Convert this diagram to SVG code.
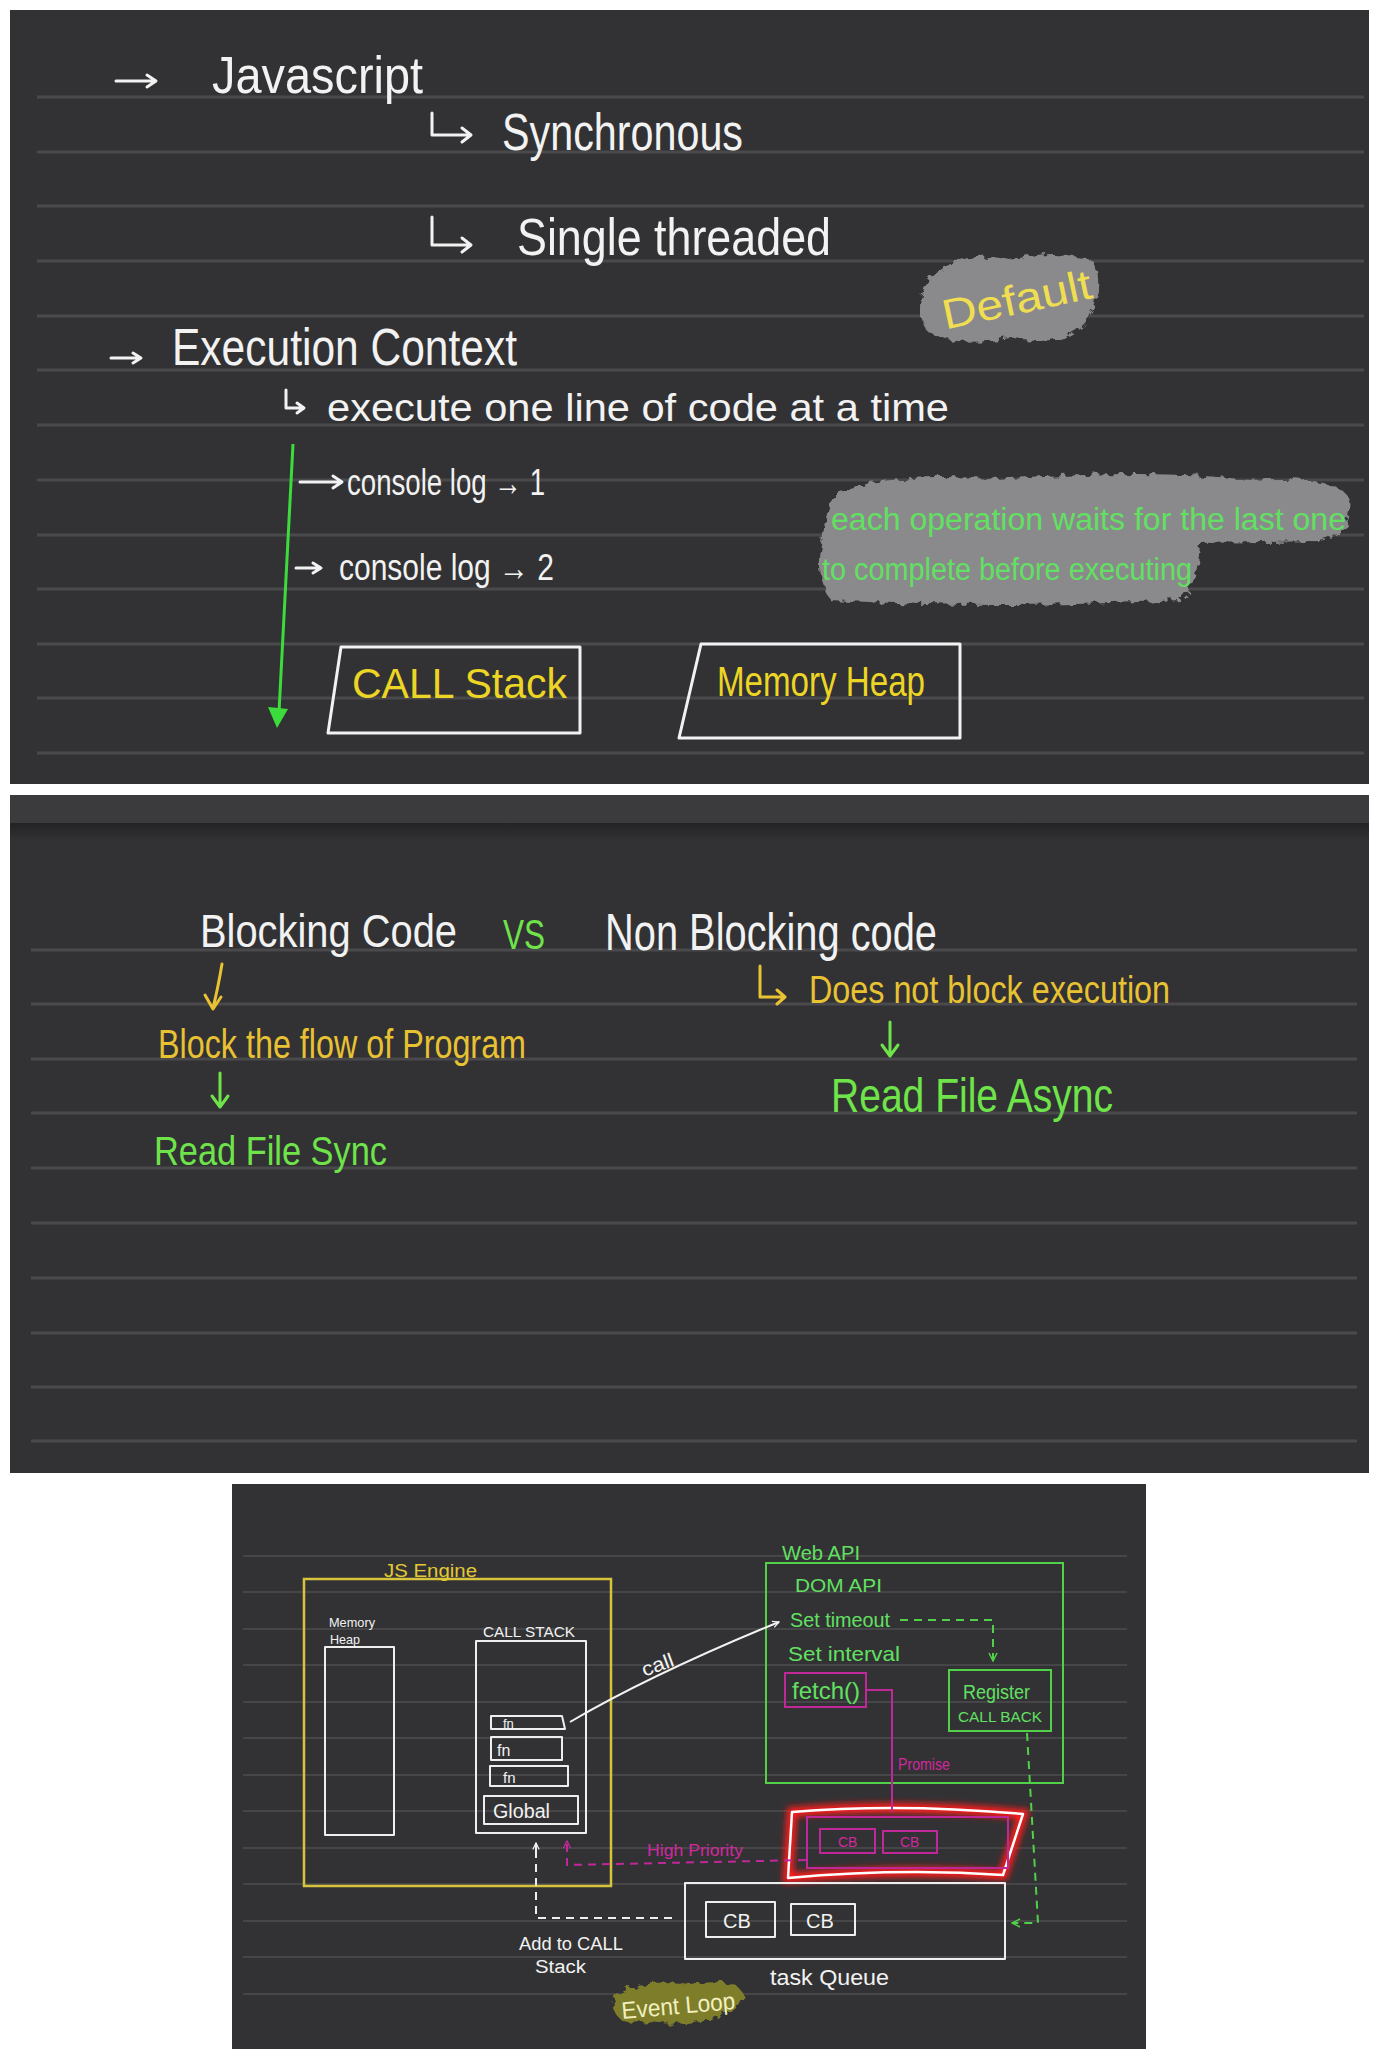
<svg xmlns="http://www.w3.org/2000/svg" width="1379" height="2060" viewBox="0 0 1379 2060">
<style>
.panel{fill:#323234}
.rule{stroke:#4a4a4c;stroke-width:3}
.rule3{stroke:#464648;stroke-width:2}
.t{font-family:"Liberation Sans",Arial,sans-serif}
.w{fill:#f2f2f2}
.y1{fill:#ecd524}
.y2{fill:#e8c232}
.g1{fill:#62e04c}
.g2{fill:#6fe34a}
.gt{fill:#62e062}
.mg{fill:#d0289e}
.sw{fill:none;stroke:#f2f2f2;stroke-width:3;stroke-linecap:round;stroke-linejoin:round}
.sw2{fill:none;stroke:#eeeeee;stroke-width:2;stroke-linecap:round;stroke-linejoin:round}
.sy{fill:none;stroke:#d8c43a;stroke-width:2.5}
.sg{fill:none;stroke:#52d04a;stroke-width:2}
.sm{fill:none;stroke:#c0289a;stroke-width:2}
.dash{stroke-dasharray:8 6}
</style>
<defs>
<filter id="rough" x="-10%" y="-20%" width="120%" height="140%">
<feTurbulence type="fractalNoise" baseFrequency="0.12" numOctaves="2" seed="3"/>
<feDisplacementMap in="SourceGraphic" scale="10"/>
</filter>
<filter id="glow" x="-10%" y="-30%" width="120%" height="160%">
<feGaussianBlur stdDeviation="3"/>
</filter>
<linearGradient id="shade" x1="0" y1="0" x2="0" y2="1">
<stop offset="0" stop-color="#232325"/>
<stop offset="1" stop-color="#323234"/>
</linearGradient>
<marker id="chev" viewBox="0 0 10 10" refX="9" refY="5" markerWidth="8" markerHeight="8" orient="auto" markerUnits="userSpaceOnUse">
<path d="M1 1 L9 5 L1 9" fill="none" stroke="#f2f2f2" stroke-width="1.5"/>
</marker>
<marker id="chevg" viewBox="0 0 10 10" refX="9" refY="5" markerWidth="10" markerHeight="10" orient="auto" markerUnits="userSpaceOnUse">
<path d="M1 1 L9 5 L1 9" fill="none" stroke="#52d04a" stroke-width="1.5"/>
</marker>
<marker id="chevm" viewBox="0 0 10 10" refX="9" refY="5" markerWidth="9" markerHeight="9" orient="auto" markerUnits="userSpaceOnUse">
<path d="M1 1 L9 5 L1 9" fill="none" stroke="#c0289a" stroke-width="1.5"/>
</marker>
</defs>

<rect width="1379" height="2060" fill="#ffffff"/>

<!-- Panel 1 -->
<g id="panel1">
<rect class="panel" x="10" y="10" width="1359" height="774"/>
<g class="rule">
<line x1="37" y1="97" x2="1364" y2="97"/>
<line x1="37" y1="152" x2="1364" y2="152"/>
<line x1="37" y1="206" x2="1364" y2="206"/>
<line x1="37" y1="261" x2="1364" y2="261"/>
<line x1="37" y1="316" x2="1364" y2="316"/>
<line x1="37" y1="370" x2="1364" y2="370"/>
<line x1="37" y1="425" x2="1364" y2="425"/>
<line x1="37" y1="480" x2="1364" y2="480"/>
<line x1="37" y1="535" x2="1364" y2="535"/>
<line x1="37" y1="589" x2="1364" y2="589"/>
<line x1="37" y1="644" x2="1364" y2="644"/>
<line x1="37" y1="698" x2="1364" y2="698"/>
<line x1="37" y1="753" x2="1364" y2="753"/>
</g>
</g>

<g id="javascript"><text class="t w" x="212" y="93" font-size="52" textLength="211" lengthAdjust="spacingAndGlyphs">Javascript</text></g>
<g id="synchronous"><text class="t w" x="502" y="150" font-size="52" textLength="241" lengthAdjust="spacingAndGlyphs">Synchronous</text></g>
<g id="single-threaded"><text class="t w" x="517" y="255" font-size="52" textLength="314" lengthAdjust="spacingAndGlyphs">Single threaded</text></g>
<g id="default">
<path d="M928 282 Q 956 248 1010 260 Q 1064 246 1096 264 Q 1104 300 1084 324 Q 1058 348 1010 338 Q 956 348 928 332 Q 912 306 928 282 Z" fill="#8a8a8c" filter="url(#rough)"/>
<text class="t" fill="#f0de52" x="940" y="314" font-size="42" textLength="152" lengthAdjust="spacingAndGlyphs" transform="rotate(-12 1016 296)">Default</text>
</g>
<g id="execution-context"><text class="t w" x="172" y="365" font-size="52" textLength="345" lengthAdjust="spacingAndGlyphs">Execution Context</text></g>
<g id="one-line"><text class="t w" x="327" y="421" font-size="38" textLength="622" lengthAdjust="spacingAndGlyphs">execute one line of code at a time</text></g>
<g id="console1"><text class="t w" x="347" y="495" font-size="36" textLength="198" lengthAdjust="spacingAndGlyphs">console log → 1</text></g>
<g id="console2"><text class="t w" x="339" y="580" font-size="36" textLength="215" lengthAdjust="spacingAndGlyphs">console log → 2</text></g>
<g id="waits-note">
<path d="M836 492 Q 900 470 1000 480 Q 1150 468 1250 480 Q 1340 474 1350 500 Q 1354 534 1320 541 L 1200 543 Q 1198 586 1180 600 Q 1000 610 830 600 Q 815 572 822 546 Q 824 512 836 492 Z" fill="#8a8a8c" filter="url(#rough)"/>
<text class="t gt" x="831" y="530" font-size="31" textLength="515" lengthAdjust="spacingAndGlyphs">each operation waits for the last one</text>
<text class="t gt" x="822" y="580" font-size="31" textLength="370" lengthAdjust="spacingAndGlyphs">to complete before executing</text>
</g>
<g id="call-stack-1">
<polygon class="sw" points="341,647 580,647 580,733 328,733"/>
<text class="t y1" x="352" y="698" font-size="42" textLength="215" lengthAdjust="spacingAndGlyphs">CALL Stack</text>
</g>
<g id="memory-heap-1">
<polygon class="sw" points="701,644 960,644 960,738 679,738"/>
<text class="t y1" x="717" y="696" font-size="42" textLength="208" lengthAdjust="spacingAndGlyphs">Memory Heap</text>
</g>

<!-- Panel 2 -->
<g id="panel2">
<rect class="panel" x="10" y="795" width="1359" height="678"/>
<rect x="10" y="795" width="1359" height="28" fill="#3b3b3d"/>
<rect x="10" y="823" width="1359" height="18" fill="url(#shade)"/>
<g class="rule">
<line x1="31" y1="950" x2="1357" y2="950"/>
<line x1="31" y1="1004" x2="1357" y2="1004"/>
<line x1="31" y1="1059" x2="1357" y2="1059"/>
<line x1="31" y1="1113" x2="1357" y2="1113"/>
<line x1="31" y1="1168" x2="1357" y2="1168"/>
<line x1="31" y1="1223" x2="1357" y2="1223"/>
<line x1="31" y1="1278" x2="1357" y2="1278"/>
<line x1="31" y1="1333" x2="1357" y2="1333"/>
<line x1="31" y1="1387" x2="1357" y2="1387"/>
<line x1="31" y1="1441" x2="1357" y2="1441"/>
</g>
</g>
<g id="blocking-code"><text class="t w" x="200" y="947" font-size="46" textLength="257" lengthAdjust="spacingAndGlyphs">Blocking Code</text></g>
<g id="vs"><text class="t g2" x="503" y="949" font-size="42" textLength="42" lengthAdjust="spacingAndGlyphs">VS</text></g>
<g id="non-blocking-code"><text class="t w" x="605" y="950" font-size="52" textLength="332" lengthAdjust="spacingAndGlyphs">Non Blocking code</text></g>
<g id="block-flow"><text class="t y2" x="158" y="1058" font-size="40" textLength="368" lengthAdjust="spacingAndGlyphs">Block the flow of Program</text></g>
<g id="read-file-sync"><text class="t g2" x="154" y="1165" font-size="40" textLength="233" lengthAdjust="spacingAndGlyphs">Read File Sync</text></g>
<g id="does-not-block"><text class="t y2" x="809" y="1003" font-size="38" textLength="361" lengthAdjust="spacingAndGlyphs">Does not block execution</text></g>
<g id="read-file-async"><text class="t g2" x="831" y="1112" font-size="48" textLength="282" lengthAdjust="spacingAndGlyphs">Read File Async</text></g>

<!-- Panel 3 -->
<g id="panel3">
<rect class="panel" x="232" y="1484" width="914" height="565"/>
<g class="rule3">
<line x1="243" y1="1556" x2="1127" y2="1556"/>
<line x1="243" y1="1592" x2="1127" y2="1592"/>
<line x1="243" y1="1629" x2="1127" y2="1629"/>
<line x1="243" y1="1665" x2="1127" y2="1665"/>
<line x1="243" y1="1702" x2="1127" y2="1702"/>
<line x1="243" y1="1738" x2="1127" y2="1738"/>
<line x1="243" y1="1775" x2="1127" y2="1775"/>
<line x1="243" y1="1811" x2="1127" y2="1811"/>
<line x1="243" y1="1848" x2="1127" y2="1848"/>
<line x1="243" y1="1884" x2="1127" y2="1884"/>
<line x1="243" y1="1921" x2="1127" y2="1921"/>
<line x1="243" y1="1957" x2="1127" y2="1957"/>
<line x1="243" y1="1994" x2="1127" y2="1994"/>
</g>
</g>
<g id="js-engine">
<rect class="sy" x="304" y="1579" width="307" height="307"/>
<text class="t" fill="#e2c834" x="384" y="1577" font-size="18" textLength="93" lengthAdjust="spacingAndGlyphs">JS Engine</text>
</g>
<g id="memory-heap-2">
<rect class="sw2" x="325" y="1647" width="69" height="188"/>
<text class="t w" x="329" y="1627" font-size="13" textLength="46" lengthAdjust="spacingAndGlyphs">Memory</text>
<text class="t w" x="330" y="1644" font-size="13" textLength="30" lengthAdjust="spacingAndGlyphs">Heap</text>
</g>
<g id="call-stack-2">
<rect class="sw2" x="476" y="1641" width="110" height="192"/>
<text class="t w" x="483" y="1637" font-size="15" textLength="92" lengthAdjust="spacingAndGlyphs">CALL STACK</text>
</g>
<g id="fn1"><polygon class="sw2" points="491,1716 562,1716 565,1729 491,1729"/><text class="t w" x="503" y="1728" font-size="13">fn</text></g>
<g id="fn2"><rect class="sw2" x="491" y="1737" width="71" height="23"/><text class="t w" x="497" y="1756" font-size="16">fn</text></g>
<g id="fn3"><rect class="sw2" x="490" y="1766" width="78" height="20"/><text class="t w" x="503" y="1783" font-size="15">fn</text></g>
<g id="global"><rect class="sw2" x="484" y="1796" width="94" height="28"/><text class="t w" x="493" y="1818" font-size="20" textLength="57" lengthAdjust="spacingAndGlyphs">Global</text></g>

<g id="web-api">
<rect class="sg" x="766" y="1563" width="297" height="220"/>
<text class="t gt" x="782" y="1560" font-size="20" textLength="78" lengthAdjust="spacingAndGlyphs">Web API</text>
<text class="t gt" x="795" y="1592" font-size="19" textLength="87" lengthAdjust="spacingAndGlyphs">DOM API</text>
<text class="t gt" x="790" y="1627" font-size="21" textLength="100" lengthAdjust="spacingAndGlyphs">Set timeout</text>
<text class="t gt" x="788" y="1661" font-size="21" textLength="112" lengthAdjust="spacingAndGlyphs">Set interval</text>
</g>
<g id="fetch">
<rect class="sm" x="785" y="1673" width="81" height="34"/>
<text class="t gt" x="792" y="1699" font-size="24" textLength="68" lengthAdjust="spacingAndGlyphs">fetch()</text>
</g>
<g id="register-callback">
<rect class="sg" x="949" y="1670" width="102" height="61"/>
<text class="t gt" x="963" y="1699" font-size="20" textLength="67" lengthAdjust="spacingAndGlyphs">Register</text>
<text class="t gt" x="958" y="1722" font-size="15" textLength="84" lengthAdjust="spacingAndGlyphs">CALL BACK</text>
</g>
<g id="microtask-queue">
<path d="M792 1812 Q 900 1803 1023 1814 L1003 1875 Q 900 1868 788 1878 Z" fill="none" stroke="#ff1a1a" stroke-width="10" filter="url(#glow)"/>
<path d="M792 1812 Q 900 1803 1023 1814 L1003 1875 Q 900 1868 788 1878 Z" fill="none" stroke="#ffffff" stroke-width="2.5" stroke-linejoin="round"/>
<rect class="sm" x="807" y="1817" width="201" height="51"/>
<rect class="sm" x="820" y="1829" width="55" height="24"/>
<rect class="sm" x="883" y="1831" width="54" height="22"/>
<text class="t mg" x="838" y="1847" font-size="14">CB</text>
<text class="t mg" x="900" y="1847" font-size="14">CB</text>
</g>
<g id="task-queue">
<rect class="sw2" x="685" y="1883" width="320" height="76"/>
<rect class="sw2" x="706" y="1902" width="69" height="35"/>
<rect class="sw2" x="791" y="1904" width="64" height="31"/>
<text class="t w" x="723" y="1928" font-size="20">CB</text>
<text class="t w" x="806" y="1928" font-size="20">CB</text>
<text class="t w" x="770" y="1985" font-size="22" textLength="119" lengthAdjust="spacingAndGlyphs">task Queue</text>
</g>
<g id="event-loop">
<path d="M622 1992 Q 650 1978 690 1984 Q 735 1978 742 1992 Q 745 2010 720 2014 Q 690 2028 650 2022 Q 615 2025 614 2008 Q 612 1996 622 1992 Z" fill="#7e7e2c" filter="url(#rough)"/>
<text class="t" fill="#f2f0c0" x="621" y="2014" font-size="24" textLength="114" lengthAdjust="spacingAndGlyphs" transform="rotate(-5 678 2002)">Event Loop</text>
</g>

<!-- Connectors -->
<g id="connectors">
<path class="sw" d="M116 81 H155 M147 75 L156 81 L147 87"/>
<path class="sw" d="M432 113 V135 H470 M462 128 L471 135 L462 142"/>
<path class="sw" d="M432 217 V245 H470 M462 238 L471 245 L462 252"/>
<path class="sw" d="M111 358 H140 M133 353 L141 358 L133 363"/>
<path class="sw" d="M286 390 V408 H303 M297 403 L304 408 L297 413"/>
<path class="sw" d="M300 482 H341 M333 476 L342 482 L333 488"/>
<path class="sw" d="M296 568 H320 M313 563 L321 568 L313 573"/>
<path d="M293 444 L279 712" stroke="#3ddc3d" stroke-width="3" fill="none"/>
<polygon points="268,707 288,709 277,728" fill="#3ddc3d"/>
<path d="M222 964 Q 218 988 213 1008 M205 995 L213 1009 L221 997" fill="none" stroke="#e8c232" stroke-width="3" stroke-linecap="round" stroke-linejoin="round"/>
<path d="M220 1073 V1106 M212 1096 L220 1107 L228 1096" fill="none" stroke="#6fe34a" stroke-width="3" stroke-linecap="round" stroke-linejoin="round"/>
<path d="M760 966 V997 H784 M777 990 L785 997 L777 1004" fill="none" stroke="#e8c232" stroke-width="3" stroke-linecap="round" stroke-linejoin="round"/>
<path d="M890 1022 V1055 M882 1045 L890 1056 L898 1045" fill="none" stroke="#6fe34a" stroke-width="3" stroke-linecap="round" stroke-linejoin="round"/>
<path d="M570 1722 Q 652 1674 779 1622" fill="none" stroke="#f2f2f2" stroke-width="2" marker-end="url(#chev)"/>
<text class="t w" x="640" y="1672" font-size="20" textLength="33" lengthAdjust="spacingAndGlyphs" transform="rotate(-20 656 1662)">call</text>
<path class="sg dash" d="M900 1620 H993 V1661" marker-end="url(#chevg)"/>
<path class="sg dash" d="M1027 1733 L1038 1923 H1012" marker-end="url(#chevg)"/>
<path class="sm" d="M866 1690 H892 V1812"/>
<text class="t mg" x="898" y="1770" font-size="17" textLength="52" lengthAdjust="spacingAndGlyphs">Promise</text>
<path class="sm dash" d="M806 1860 L567 1865 V1841" marker-end="url(#chevm)"/>
<text class="t mg" x="647" y="1856" font-size="17" textLength="96" lengthAdjust="spacingAndGlyphs">High Priority</text>
<path d="M672 1918 H536 V1858" fill="none" stroke="#eeeeee" stroke-width="2" stroke-dasharray="8 6"/>
<path d="M536 1858 V1843" fill="none" stroke="#eeeeee" stroke-width="2" marker-end="url(#chev)"/>
<text class="t w" x="519" y="1950" font-size="18" textLength="104" lengthAdjust="spacingAndGlyphs">Add to CALL</text>
<text class="t w" x="535" y="1973" font-size="18" textLength="51" lengthAdjust="spacingAndGlyphs">Stack</text>
</g>
</svg>
